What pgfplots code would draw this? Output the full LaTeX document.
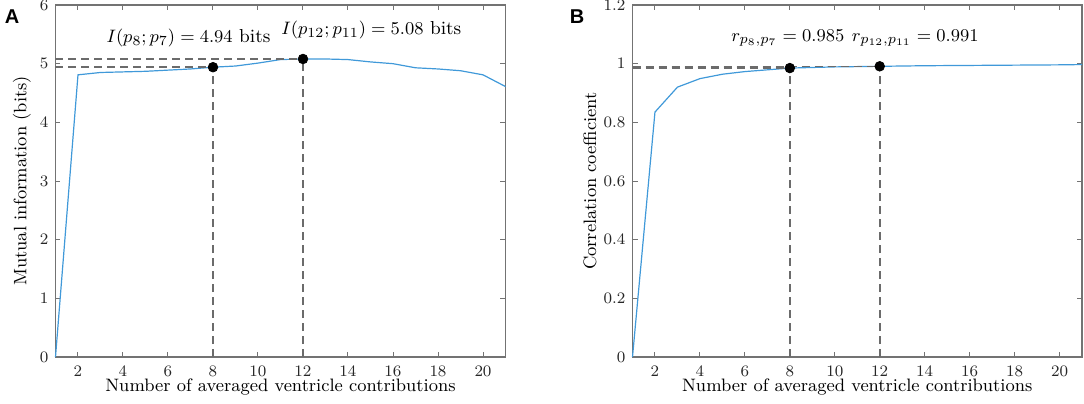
\documentclass[border=0pt]{standalone}
\usepackage{fontspec}
\usepackage{pgfplots}
\pgfplotsset{compat=1.18}
\newfontfamily\arialb{Liberation Sans}
\definecolor{mblue}{rgb}{0.25,0.6,0.85}
\definecolor{dgray}{gray}{0.42}
\pgfplotstableread{
x y
1 0
2 4.81
3 4.85
4 4.86
5 4.87
6 4.89
7 4.91
8 4.94
9 4.96
10 5.01
11 5.07
12 5.08
13 5.08
14 5.07
15 5.03
16 5.00
17 4.93
18 4.91
19 4.88
20 4.81
21 4.61
}\mitable
\pgfplotstableread{
x y
1 0
2 0.835
3 0.920
4 0.949
5 0.964
6 0.973
7 0.979
8 0.985
9 0.987
10 0.989
11 0.990
12 0.991
13 0.992
14 0.993
15 0.9935
16 0.994
17 0.9945
18 0.995
19 0.9955
20 0.996
21 0.997
}\cctable
\pgfplotsset{
  myax/.style={
    scale only axis, anchor=south west,
    xmin=1, xmax=21,
    xtick={2,4,...,20},
    tick align=inside,
    major tick length=2.5pt,
    axis line style={black!55, line width=0.6pt},
    every tick/.style={black!55, line width=0.5pt},
    tick label style={font=\fontsize{7.8}{9}\selectfont, black!85},
    label style={font=\fontsize{9}{11}\selectfont},
    xlabel={Number of averaged ventricle contributions},
    xlabel style={at={(axis description cs:0.5,-0.085)}, anchor=center},
    xticklabel style={yshift=-1pt},
  },
  dash/.style={dgray, line width=0.8pt, dash pattern=on 4pt off 2.5pt, forget plot},
}
\begin{document}
\begin{tikzpicture}
\useasboundingbox (0,0) rectangle (542pt,201.5pt);
\begin{axis}[myax, at={(27.75pt,23pt)}, width=225pt, height=176pt,
  ymin=0, ymax=6, ytick={0,1,...,6},
  ylabel={Mutual information (bits)},
  ylabel style={at={(axis description cs:-0.075,0.5)}, anchor=center},
  clip=false]
\addplot[mblue, line width=0.6pt] table[x=x,y=y]{\mitable};
\addplot[dash] coordinates {(1,4.94) (8,4.94)};
\addplot[dash] coordinates {(1,5.08) (12,5.08)};
\addplot[dash] coordinates {(8,0) (8,4.94)};
\addplot[dash] coordinates {(12,0) (12,5.08)};
\addplot[only marks, mark=*, mark size=2.4pt, black] coordinates {(8,4.94) (12,5.08)};
\node[font=\fontsize{9.4}{11}\selectfont] at (axis cs:6.91,5.43) {$I(p_8;p_7)=4.94~\mathrm{bits}$};
\node[font=\fontsize{9.4}{11}\selectfont] at (axis cs:15.04,5.57) {$I(p_{12};p_{11})=5.08~\mathrm{bits}$};
\end{axis}
\node[font=\arialb\bfseries\fontsize{10}{12}\selectfont] at (6pt,193pt) {A};
\begin{axis}[myax, at={(316.25pt,23pt)}, width=224.75pt, height=176pt,
  ymin=0, ymax=1.2, ytick={0,0.2,...,1.2},
  yticklabel style={/pgf/number format/fixed, /pgf/number format/precision=1},
  ylabel={Correlation coefficient},
  ylabel style={at={(axis description cs:-0.0946,0.5)}, anchor=center},
  clip=false]
\addplot[mblue, line width=0.6pt] table[x=x,y=y]{\cctable};
\addplot[dash] coordinates {(1,0.985) (8,0.985)};
\addplot[dash] coordinates {(1,0.991) (12,0.991)};
\addplot[dash] coordinates {(8,0) (8,0.985)};
\addplot[dash] coordinates {(12,0) (12,0.991)};
\addplot[only marks, mark=*, mark size=2.4pt, black] coordinates {(8,0.985) (12,0.991)};
\node[font=\fontsize{9.4}{11}\selectfont] at (axis cs:7.91,1.087) {$r_{p_8,p_7}=0.985$};
\node[font=\fontsize{9.4}{11}\selectfont] at (axis cs:13.58,1.087) {$r_{p_{12},p_{11}}=0.991$};
\end{axis}
\node[font=\arialb\bfseries\fontsize{10}{12}\selectfont] at (288.5pt,193pt) {B};
\end{tikzpicture}
\end{document}
